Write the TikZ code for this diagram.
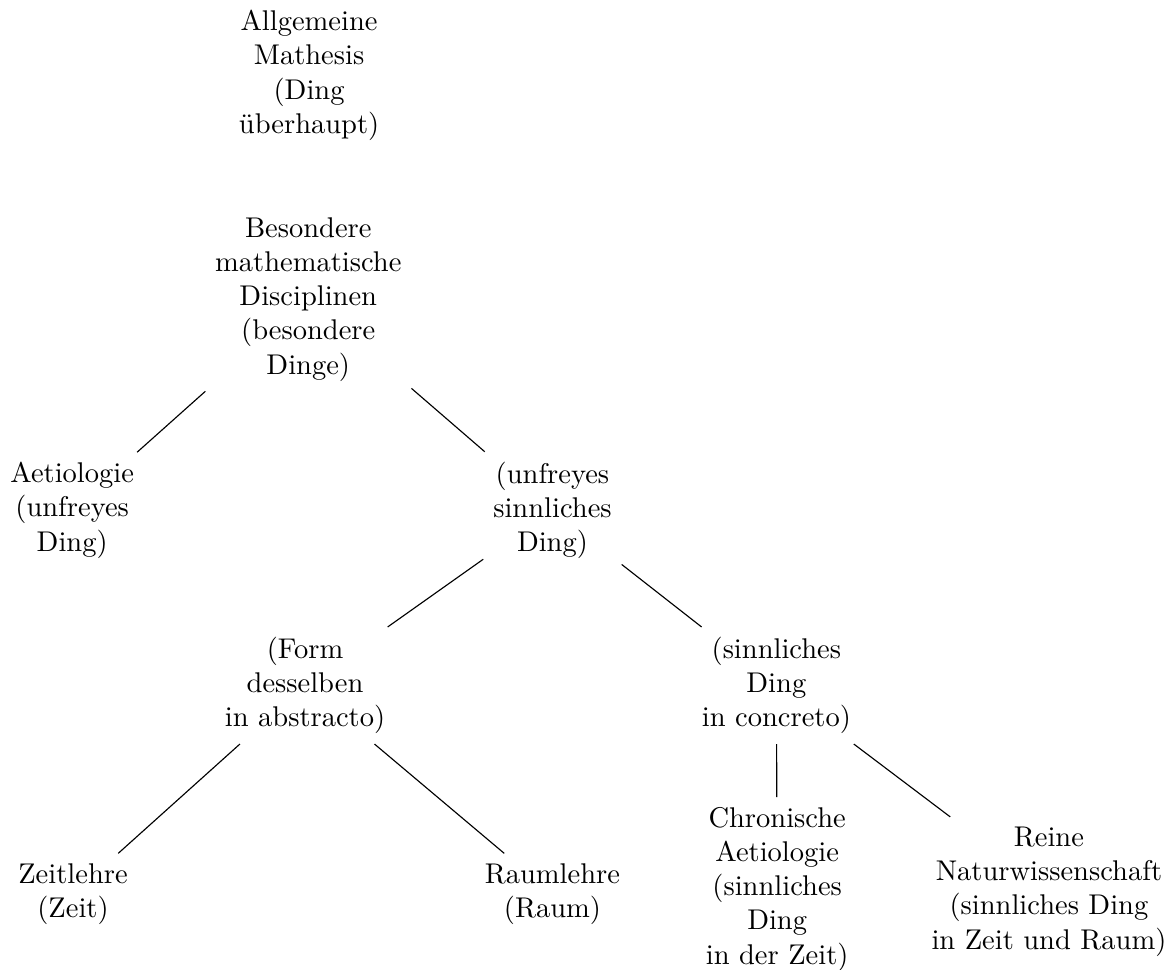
\documentclass[tikz,border=0pt]{standalone}
\usetikzlibrary{positioning}

\begin{document}
\begin{tikzpicture}[txt/.style={align=center}]
        \useasboundingbox (0, 0) rectangle (14.41, -11.95);

        \node[txt] at (3.81, -0.93)(allg){Allgemeine\\Mathesis\\(Ding\\überhaupt)};
        \node[txt] at (3.80, -3.69)(bes){Besondere\\mathematische\\Disciplinen\\(besondere\\Dinge)};
        \node[txt] at (0.89, -6.29)(aet){Aetiologie\\(unfreyes\\Ding)};
        \node[txt] at (6.81, -6.29)(unfr){(unfreyes\\sinnliches\\Ding)};
        \node[txt] at (3.76, -8.45)(form){(Form\\desselben\\in abstracto)};
        \node[txt] at (9.57, -8.45)(sinn){(sinnliches\\Ding\\in concreto)};
        \node[txt] at (0.90, -11.02)(zeit){Zeitlehre\\(Zeit)};
        \node[txt] at (6.81, -11.02)(raum){Raumlehre\\(Raum)};
        \node[txt] at (9.58, -10.96)(chron){Chronische\\Aetiologie\\(sinnliches\\Ding\\in der Zeit)};
        \node[txt] at (12.93, -10.99)(rein){Reine\\Naturwissenschaft\\(sinnliches Ding\\in Zeit und Raum)};

        \path
        (bes)edge(aet)
        (bes)edge(unfr)
        (unfr)edge(form)
        (unfr)edge(sinn)
        (form)edge(zeit)
        (form)edge(raum)
        (sinn)edge(chron)
        (sinn)edge(rein)
        ;
    \end{tikzpicture}
\end{document}
